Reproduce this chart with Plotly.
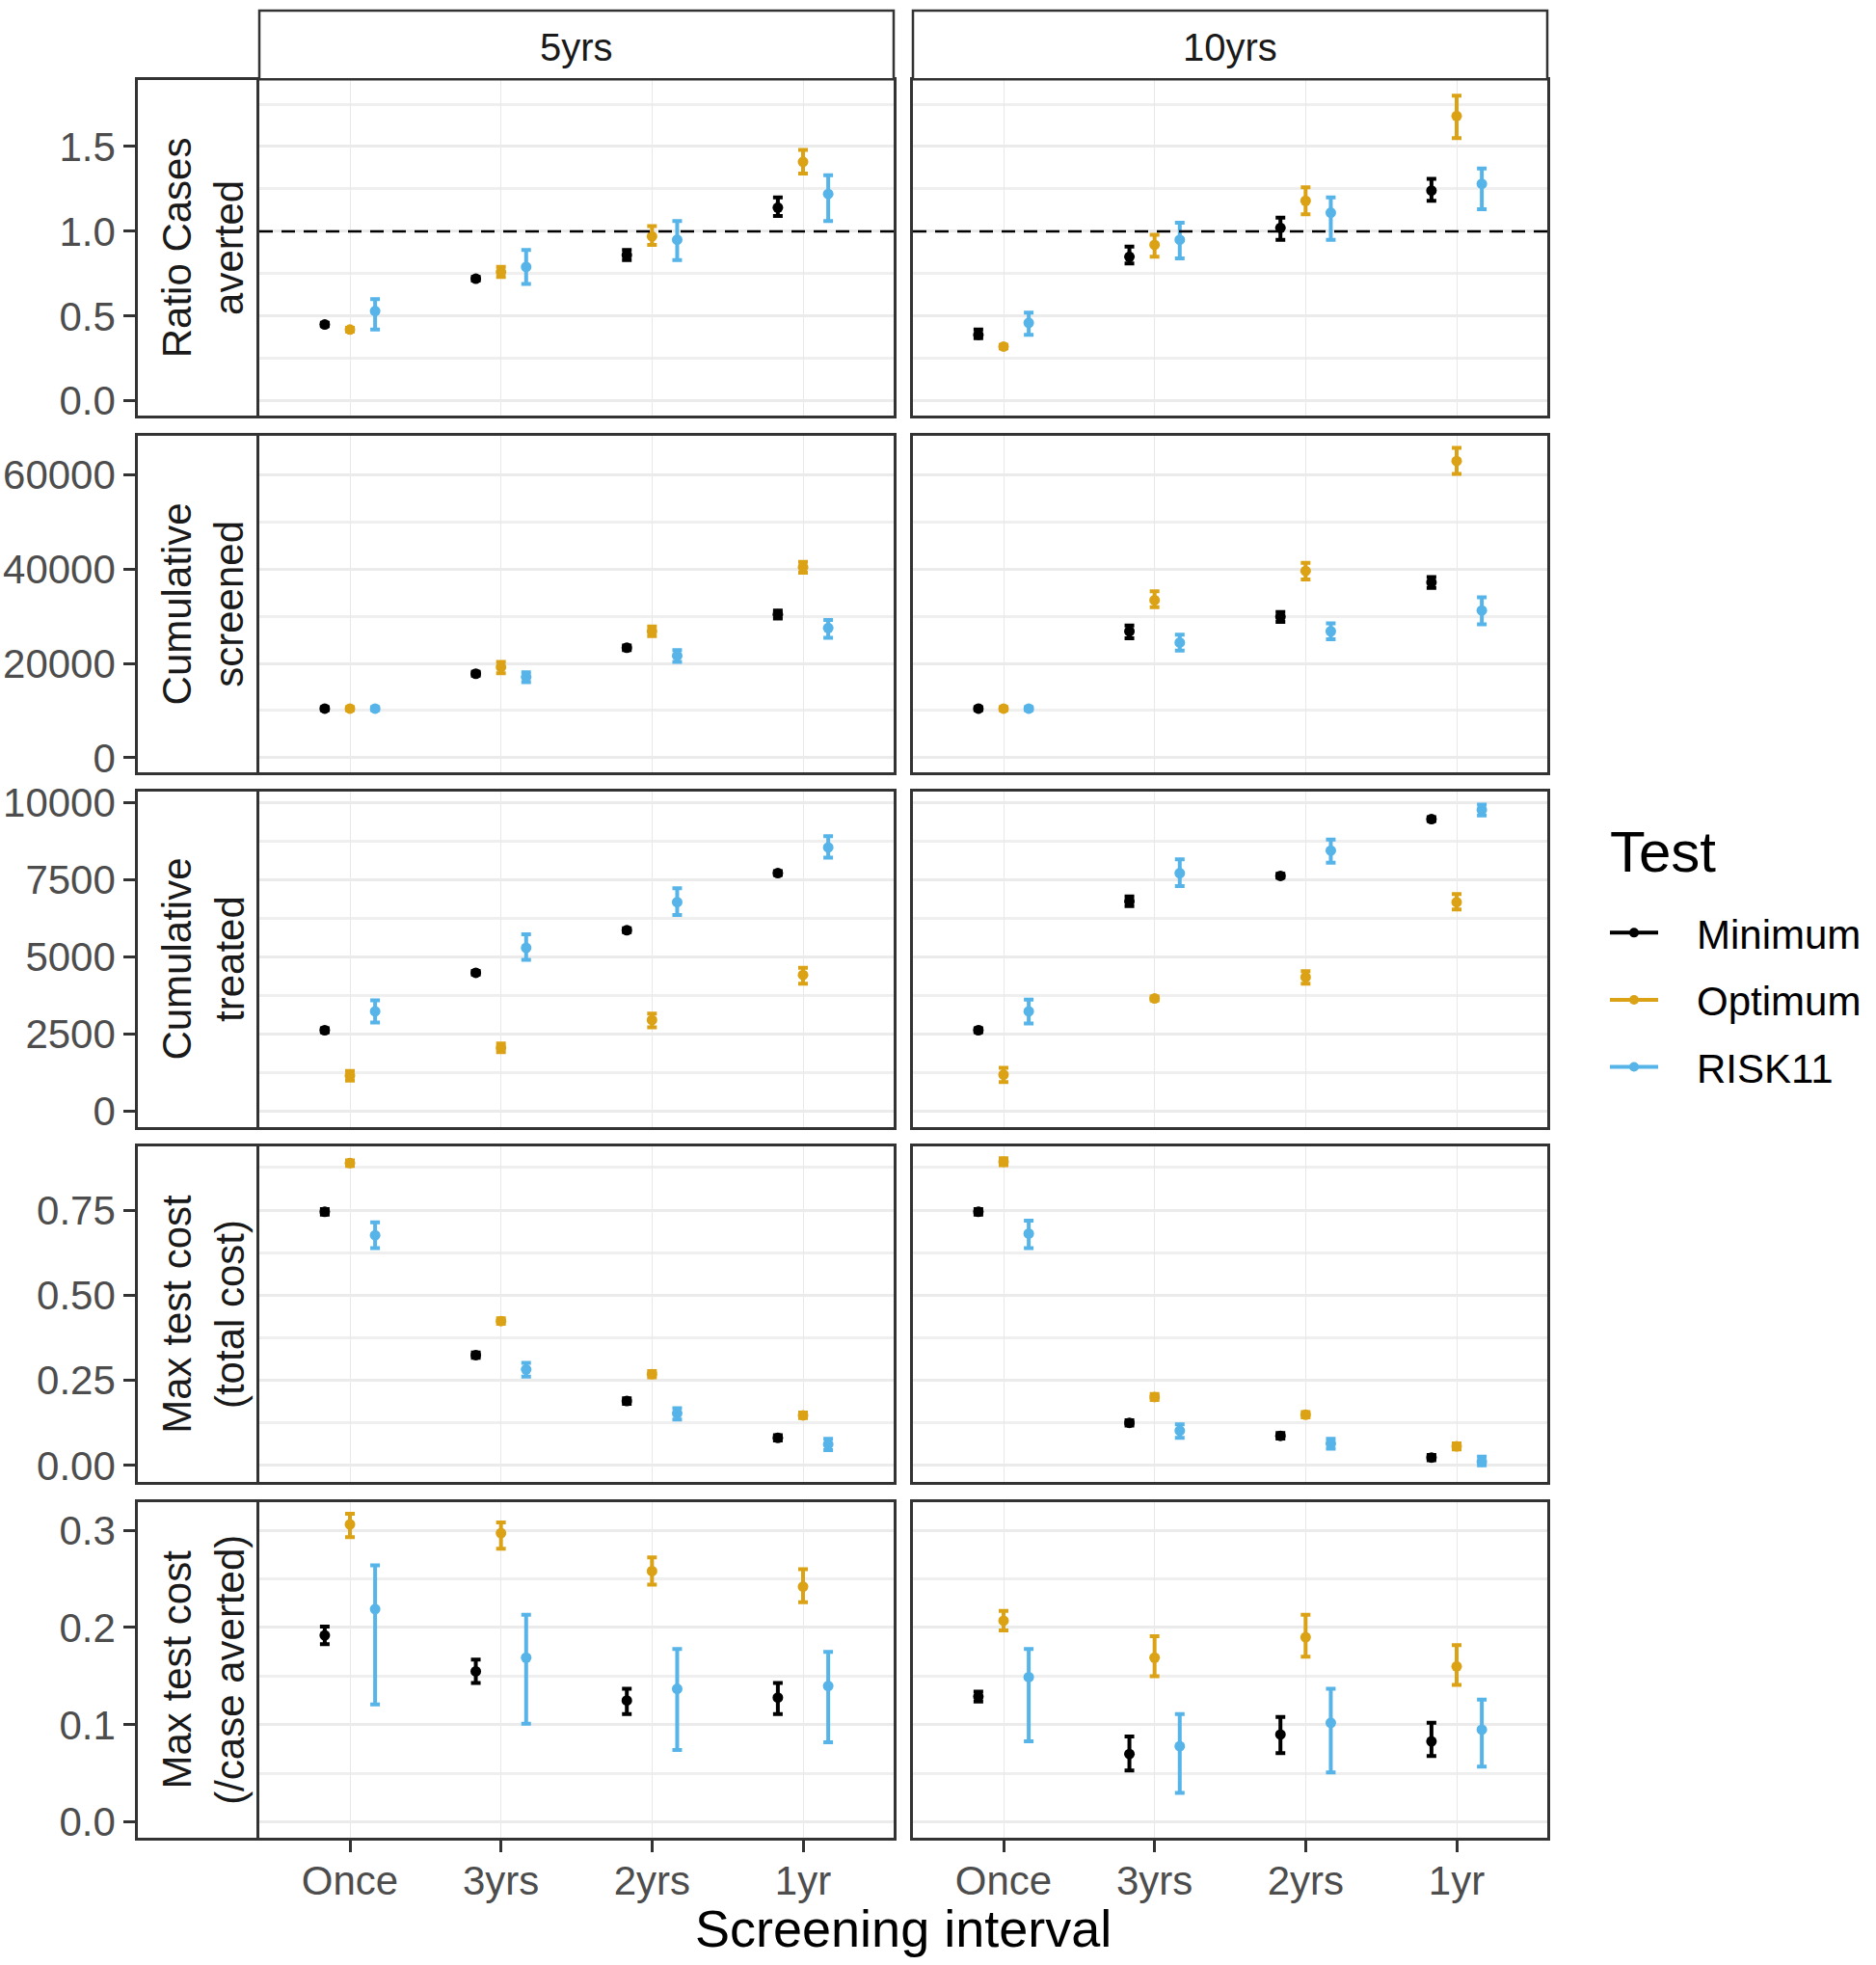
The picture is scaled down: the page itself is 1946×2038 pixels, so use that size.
import plotly.graph_objects as go

# categories
intervals = ["Once", "3yrs", "2yrs", "1yr"]
horizons = ["5yrs", "10yrs"]
tests = ["Minimum", "Optimum", "RISK11"]

# each list of lists is [Minimum, Optimum, RISK11] x [Once, 3yrs, 2yrs, 1yr]
ratio_5yrs_mid = [[0.45, 0.72, 0.86, 1.14], [0.42, 0.76, 0.97, 1.41], [0.53, 0.79, 0.95, 1.22]]
ratio_5yrs_lo = [[0.44, 0.71, 0.83, 1.09], [0.41, 0.73, 0.92, 1.34], [0.42, 0.69, 0.83, 1.06]]
ratio_5yrs_hi = [[0.46, 0.73, 0.89, 1.20], [0.43, 0.79, 1.03, 1.48], [0.60, 0.89, 1.06, 1.33]]
ratio_10yrs_mid = [[0.39, 0.85, 1.02, 1.24], [0.32, 0.92, 1.18, 1.68], [0.46, 0.95, 1.11, 1.28]]
ratio_10yrs_lo = [[0.37, 0.81, 0.95, 1.18], [0.31, 0.85, 1.10, 1.55], [0.39, 0.84, 0.95, 1.13]]
ratio_10yrs_hi = [[0.42, 0.91, 1.08, 1.31], [0.33, 0.98, 1.26, 1.80], [0.52, 1.05, 1.20, 1.37]]

screened_5yrs_mid = [[10400, 17800, 23300, 30400], [10400, 19200, 26800, 40400], [10400, 17100, 21600, 27500]]
screened_5yrs_lo = [[10100, 17400, 22800, 29500], [10100, 17900, 25800, 39200], [10100, 16000, 20300, 25400]]
screened_5yrs_hi = [[10700, 18200, 23800, 31200], [10700, 20300, 27800, 41500], [10700, 18100, 22800, 29200]]
screened_10yrs_mid = [[10400, 26800, 29900, 37200], [10400, 33400, 39600, 62900], [10400, 24400, 26800, 31200]]
screened_10yrs_lo = [[10100, 25300, 28800, 36000], [10100, 31900, 37800, 60200], [10100, 22700, 25100, 28300]]
screened_10yrs_hi = [[10700, 28000, 30900, 38300], [10700, 35300, 41300, 65700], [10700, 26100, 28500, 34000]]

treated_5yrs_mid = [[2620, 4480, 5860, 7710], [1150, 2050, 2950, 4410], [3230, 5290, 6770, 8540]]
treated_5yrs_lo = [[2560, 4420, 5800, 7650], [990, 1910, 2710, 4130], [2870, 4900, 6350, 8210]]
treated_5yrs_hi = [[2680, 4540, 5920, 7770], [1300, 2190, 3160, 4640], [3590, 5730, 7220, 8910]]
treated_10yrs_mid = [[2620, 6800, 7620, 9460], [1180, 3650, 4340, 6770], [3230, 7710, 8440, 9760]]
treated_10yrs_lo = [[2560, 6640, 7560, 9400], [940, 3590, 4130, 6530], [2840, 7290, 8050, 9580]]
treated_10yrs_hi = [[2680, 6950, 7690, 9520], [1400, 3710, 4530, 7030], [3610, 8160, 8800, 9930]]

costtotal_5yrs_mid = [[0.745, 0.324, 0.189, 0.081], [0.888, 0.424, 0.268, 0.147], [0.676, 0.282, 0.153, 0.062]]
costtotal_5yrs_lo = [[0.737, 0.316, 0.181, 0.073], [0.880, 0.416, 0.259, 0.139], [0.638, 0.261, 0.135, 0.045]]
costtotal_5yrs_hi = [[0.753, 0.332, 0.197, 0.089], [0.896, 0.432, 0.277, 0.155], [0.714, 0.301, 0.168, 0.078]]
costtotal_10yrs_mid = [[0.745, 0.125, 0.087, 0.023], [0.892, 0.201, 0.149, 0.056], [0.681, 0.102, 0.064, 0.011]]
costtotal_10yrs_lo = [[0.737, 0.117, 0.079, 0.015], [0.882, 0.192, 0.141, 0.047], [0.638, 0.081, 0.049, 0.000]]
costtotal_10yrs_hi = [[0.753, 0.133, 0.095, 0.031], [0.902, 0.210, 0.157, 0.065], [0.719, 0.121, 0.078, 0.026]]

costcase_5yrs_mid = [[0.192, 0.155, 0.125, 0.128], [0.306, 0.297, 0.258, 0.242], [0.219, 0.169, 0.137, 0.140]]
costcase_5yrs_lo = [[0.183, 0.143, 0.111, 0.111], [0.293, 0.281, 0.244, 0.226], [0.121, 0.101, 0.074, 0.082]]
costcase_5yrs_hi = [[0.201, 0.167, 0.137, 0.143], [0.317, 0.308, 0.272, 0.260], [0.264, 0.213, 0.178, 0.175]]
costcase_10yrs_mid = [[0.129, 0.070, 0.090, 0.083], [0.207, 0.169, 0.190, 0.160], [0.149, 0.078, 0.102, 0.095]]
costcase_10yrs_lo = [[0.124, 0.053, 0.071, 0.068], [0.197, 0.150, 0.170, 0.141], [0.083, 0.030, 0.051, 0.057]]
costcase_10yrs_hi = [[0.134, 0.088, 0.108, 0.102], [0.217, 0.191, 0.213, 0.182], [0.178, 0.111, 0.137, 0.126]]

row_labels = ["Ratio Cases<br>averted", "Cumulative<br>screened", "Cumulative<br>treated",
              "Max test cost<br>(total cost)", "Max test cost<br>(/case averted)"]

rows = [
    ([(ratio_5yrs_mid, ratio_5yrs_lo, ratio_5yrs_hi), (ratio_10yrs_mid, ratio_10yrs_lo, ratio_10yrs_hi)],
     [-0.089, 1.891], 0.5, ".1f"),
    ([(screened_5yrs_mid, screened_5yrs_lo, screened_5yrs_hi), (screened_10yrs_mid, screened_10yrs_lo, screened_10yrs_hi)],
     [-3007, 68183], 20000, "d"),
    ([(treated_5yrs_mid, treated_5yrs_lo, treated_5yrs_hi), (treated_10yrs_mid, treated_10yrs_lo, treated_10yrs_hi)],
     [-509, 10366], 2500, "d"),
    ([(costtotal_5yrs_mid, costtotal_5yrs_lo, costtotal_5yrs_hi), (costtotal_10yrs_mid, costtotal_10yrs_lo, costtotal_10yrs_hi)],
     [-0.048, 0.938], 0.25, ".2f"),
    ([(costcase_5yrs_mid, costcase_5yrs_lo, costcase_5yrs_hi), (costcase_10yrs_mid, costcase_10yrs_lo, costcase_10yrs_hi)],
     [-0.016, 0.329], 0.1, ".1f"),
]

colors = ["#000000", "#DCA216", "#56B4E9"]
dodge = [-0.1667, 0.0, 0.1667]

W, H = 1946, 2038
FONT = "Liberation Sans, Arial, sans-serif"
BORDER = "#333333"


def fx(p):
    return p / W


def fy(p):
    # page renders slightly shifted/squeezed vertically, compensate
    q = max((p - 9.8) / 0.9898, 0)
    return 1 - q / H


col_x = [(143, 269), (269, 927), (947, 1605)]
row_tops = [82, 451, 819, 1187, 1556]
row_h = 348

fig = go.Figure()
layout = {}
annotations = []
shapes = []

for r, (data, yrange, dtick, fmt) in enumerate(rows):
    top, bot = row_tops[r], row_tops[r] + row_h
    ydom = [fy(bot), fy(top)]
    last = r == len(rows) - 1
    for c in range(3):
        n = r * 3 + c + 1
        sfx = "" if n == 1 else str(n)
        xdom = [fx(col_x[c][0]), fx(col_x[c][1])]
        if c == 0:
            # strip column that carries the y axis ticks
            layout["xaxis" + sfx] = dict(domain=xdom, anchor="y" + sfx, range=[0, 1], showgrid=False,
                                         zeroline=False, showticklabels=False, ticks="",
                                         showline=True, mirror=True, linecolor=BORDER, linewidth=2.5,
                                         fixedrange=True)
            layout["yaxis" + sfx] = dict(domain=ydom, anchor="x" + sfx, range=yrange, tick0=0, dtick=dtick,
                                         tickformat=fmt, showgrid=False, zeroline=False,
                                         ticks="outside", ticklen=12, tickwidth=2.5, tickcolor=BORDER,
                                         tickfont=dict(size=42, color="#4D4D4D", family=FONT),
                                         showline=True, mirror=False, linecolor=BORDER, linewidth=2.5,
                                         fixedrange=True)
            fig.add_trace(go.Scatter(x=[None], y=[None], xaxis="x" + sfx, yaxis="y" + sfx,
                                     showlegend=False, hoverinfo="skip"))
            annotations.append(dict(text=row_labels[r], xref="paper", yref="paper",
                                    x=fx(211), y=fy((top + bot) / 2),
                                    xanchor="center", yanchor="middle",
                                    textangle=-90, showarrow=False,
                                    font=dict(size=42, color="#1A1A1A", family=FONT)))
            continue
        layout["xaxis" + sfx] = dict(domain=xdom, anchor="y" + sfx, range=[0.4, 4.6],
                                     tickvals=[1, 2, 3, 4], ticktext=intervals,
                                     showticklabels=last, ticks="outside" if last else "",
                                     ticklen=12, tickwidth=2.5, tickcolor=BORDER, ticklabelstandoff=-6,
                                     tickfont=dict(size=42, color="#4D4D4D", family=FONT),
                                     showgrid=True, gridcolor="#E8E8E8", gridwidth=1.2, zeroline=False,
                                     showline=True, mirror=True, linecolor=BORDER, linewidth=2.5)
        layout["yaxis" + sfx] = dict(domain=ydom, anchor="x" + sfx, range=yrange, tick0=0, dtick=dtick,
                                     showticklabels=False, ticks="", showgrid=True,
                                     gridcolor="#EBEBEB", gridwidth=2.5, zeroline=False,
                                     minor=dict(tick0=0, dtick=dtick / 2, showgrid=True,
                                                gridcolor="#EFEFEF", gridwidth=2.5),
                                     showline=True, mirror=True, linecolor=BORDER, linewidth=2.5)
        mid, lo, hi = data[c - 1]
        for t, test in enumerate(tests):
            xs = [i + 1 + dodge[t] for i in range(len(intervals))]
            fig.add_trace(go.Scatter(
                x=xs, y=mid[t], mode="markers", xaxis="x" + sfx, yaxis="y" + sfx,
                marker=dict(color=colors[t], size=11),
                error_y=dict(type="data", symmetric=False,
                             array=[h - m for h, m in zip(hi[t], mid[t])],
                             arrayminus=[m - l for m, l in zip(mid[t], lo[t])],
                             color=colors[t], thickness=4, width=5),
                showlegend=False, name=test))
        if r == 0:
            shapes.append(dict(type="line", xref="x" + sfx + " domain", x0=0, x1=1,
                               yref="y" + sfx, y0=1, y1=1, layer="above",
                               line=dict(color="black", width=2.5, dash="14px,9px")))
            # facet strip on top
            shapes.append(dict(type="rect", xref="paper", yref="paper",
                               x0=xdom[0], x1=xdom[1], y0=fy(81), y1=fy(5),
                               fillcolor="white", line=dict(color=BORDER, width=2.5)))
            annotations.append(dict(text=horizons[c - 1], xref="paper", yref="paper",
                                    x=(xdom[0] + xdom[1]) / 2, y=fy(48),
                                    xanchor="center", yanchor="middle", showarrow=False,
                                    font=dict(size=40, color="#1A1A1A", family=FONT)))

# legend entries (leading spaces give the gap between key and label)
for t, test in enumerate(tests):
    fig.add_trace(go.Scatter(x=[None], y=[None], xaxis="x2", yaxis="y2", mode="lines+markers",
                             name="\u00a0\u00a0\u00a0" + test, legendgroup=test,
                             line=dict(color=colors[t], width=4),
                             marker=dict(color=colors[t], size=10)))

annotations.append(dict(text="Test", xref="paper", yref="paper",
                        x=fx(1668), y=fy(882), xanchor="left", yanchor="middle",
                        showarrow=False, font=dict(size=60, color="black", family=FONT)))
annotations.append(dict(text="Screening interval", xref="paper", yref="paper",
                        x=fx((269 + 1605) / 2), y=fy(1998), xanchor="center", yanchor="middle",
                        showarrow=False,
                        font=dict(size=54, color="black", family=FONT)))

fig.update_layout(
    **layout,
    width=W, height=H, autosize=False,
    margin=dict(l=0, r=0, t=0, b=0),
    paper_bgcolor="white", plot_bgcolor="white",
    font=dict(family=FONT, size=42, color="black"),
    annotations=annotations, shapes=shapes,
    legend=dict(x=fx(1665), y=fy(932), xanchor="left", yanchor="top",
                font=dict(size=42, color="black", family=FONT),
                tracegroupgap=12, itemwidth=50, bgcolor="rgba(0,0,0,0)"),
    showlegend=True,
)

fig.write_html("out.html", config={"displayModeBar": False},
               post_script="document.body.style.margin='0';")
